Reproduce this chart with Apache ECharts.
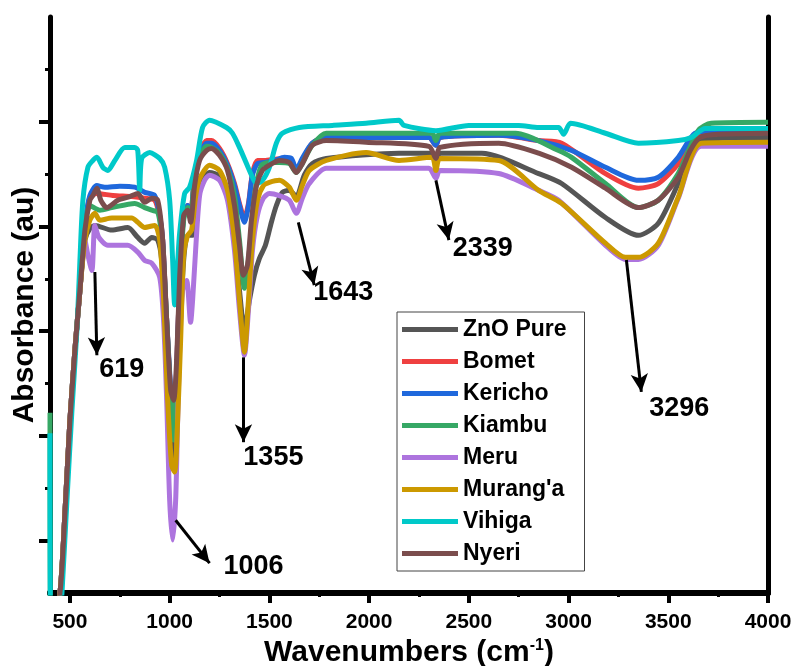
<!DOCTYPE html>
<html>
<head>
<meta charset="utf-8">
<script src="https://cdn.jsdelivr.net/npm/echarts@6/dist/echarts.min.js"></script>
<style>
  html, body { margin: 0; padding: 0; background: #fff; }
  #ftir { width: 795px; height: 666px; }
</style>
</head>
<body>
<div id="ftir"></div>
<script>
// FTIR spectra, [wavenumber, absorbance (au)]
var znoPure = [[400,-1],[450,0],[475,1.53],[500,3.30],[525,4.64],[550,5.78],[575,6.74],[600,6.96],[625,7.02],[710,6.93],[790,6.98],[840,6.79],[875,6.68],[910,6.79],[940,6.74],[960,6.35],[980,5.02],[1000,3.30],[1020,2.54],[1035,3.30],[1050,4.83],[1070,6.35],[1090,6.83],[1115,6.83],[1135,7.50],[1165,7.88],[1200,8.03],[1250,7.96],[1290,7.59],[1325,6.74],[1350,5.78],[1375,5.02],[1400,5.59],[1425,6.07],[1450,6.39],[1480,6.64],[1510,7.08],[1535,7.40],[1565,7.65],[1600,7.69],[1635,7.57],[1675,7.98],[1715,8.20],[1785,8.30],[2150,8.40],[2315,8.40],[2335,8.26],[2355,8.40],[2565,8.40],[2850,8.01],[2965,7.82],[3185,7.17],[3350,6.83],[3450,7.06],[3550,7.82],[3650,8.64],[4000,8.70]];
var bomet = [[400,-1],[450,0],[475,1.53],[500,3.30],[525,4.64],[550,5.78],[575,6.98],[600,7.56],[635,7.63],[715,7.59],[810,7.57],[875,7.54],[925,7.50],[950,7.17],[965,6.74],[985,5.21],[1020,3.11],[1035,4.25],[1050,5.97],[1070,7.21],[1090,7.40],[1105,7.21],[1125,8.01],[1150,8.40],[1185,8.64],[1210,8.64],[1250,8.49],[1290,8.20],[1325,7.82],[1350,7.44],[1375,7.16],[1395,7.44],[1415,8.01],[1440,8.26],[1475,8.26],[1525,8.28],[1575,8.30],[1610,8.26],[1635,8.07],[1665,8.26],[1715,8.59],[1785,8.70],[1985,8.70],[2300,8.70],[2335,8.55],[2355,8.70],[2650,8.74],[2850,8.64],[2965,8.59],[3185,8.01],[3350,7.73],[3450,7.82],[3550,8.20],[3635,8.74],[3750,8.83],[4000,8.83]];
var kericho = [[400,-1],[450,0],[475,1.53],[500,3.30],[525,4.64],[550,5.78],[575,7.02],[600,7.59],[635,7.78],[675,7.75],[750,7.77],[825,7.75],[875,7.65],[925,7.59],[950,7.21],[965,6.74],[985,5.21],[1020,3.30],[1035,4.25],[1050,5.97],[1070,7.21],[1090,7.40],[1105,7.21],[1125,7.98],[1150,8.36],[1185,8.59],[1210,8.59],[1250,8.45],[1290,8.17],[1325,7.78],[1350,7.40],[1375,7.08],[1395,7.40],[1415,7.98],[1440,8.20],[1475,8.22],[1525,8.26],[1575,8.32],[1610,8.30],[1635,8.09],[1665,8.30],[1715,8.59],[1785,8.70],[1985,8.70],[2300,8.70],[2335,8.55],[2355,8.70],[2650,8.74],[2850,8.64],[3015,8.45],[3185,8.13],[3350,7.88],[3450,7.94],[3550,8.32],[3635,8.78],[3750,8.83],[4000,8.83]];
var kiambu = [[400,3.44],[404,-1],[450,0],[475,1.53],[500,3.30],[525,4.64],[550,5.78],[575,6.93],[600,7.40],[650,7.31],[710,7.36],[825,7.44],[875,7.36],[910,7.31],[940,7.27],[955,6.98],[965,6.64],[985,5.21],[1020,2.92],[1035,4.06],[1050,5.78],[1070,7.12],[1090,7.36],[1105,7.17],[1125,7.94],[1150,8.32],[1185,8.53],[1210,8.51],[1250,8.40],[1290,8.11],[1325,7.59],[1350,6.74],[1375,5.82],[1400,6.54],[1425,7.59],[1460,8.17],[1500,8.22],[1550,8.22],[1600,8.20],[1635,8.03],[1665,8.20],[1715,8.55],[1785,8.78],[2315,8.78],[2335,8.64],[2355,8.78],[2735,8.78],[2950,8.45],[3015,8.32],[3185,7.82],[3350,7.36],[3450,7.50],[3550,8.01],[3650,8.83],[3715,8.97],[4000,8.99]];
var meru = [[400,-1],[450,0],[475,1.53],[500,3.30],[525,4.64],[550,5.78],[575,6.74],[590,6.45],[610,6.16],[625,7.02],[645,6.79],[690,6.64],[790,6.64],[840,6.51],[875,6.35],[910,6.30],[950,6.03],[970,5.17],[985,3.68],[1000,1.77],[1015,1.01],[1030,1.77],[1040,3.30],[1050,4.64],[1065,5.78],[1085,5.97],[1105,5.17],[1115,5.59],[1130,6.54],[1150,7.59],[1175,7.88],[1200,7.98],[1250,7.88],[1290,7.50],[1325,6.54],[1350,5.40],[1375,4.54],[1395,5.40],[1415,6.54],[1440,7.21],[1470,7.54],[1500,7.63],[1550,7.59],[1600,7.50],[1635,7.25],[1665,7.54],[1700,7.82],[1785,8.11],[2150,8.11],[2300,8.11],[2335,7.92],[2355,8.07],[2650,8.01],[2850,7.69],[2950,7.50],[3185,6.64],[3285,6.37],[3350,6.37],[3450,6.64],[3550,7.54],[3665,8.53],[4000,8.53]];
var murang = [[400,-1],[450,0],[475,1.53],[500,3.30],[525,4.64],[550,5.78],[575,6.74],[600,7.12],[625,7.25],[650,7.12],[710,7.16],[810,7.16],[840,7.08],[875,6.98],[925,7.02],[950,6.74],[970,5.59],[990,3.68],[1010,2.44],[1025,2.31],[1040,3.30],[1055,4.83],[1070,6.45],[1090,6.83],[1110,6.93],[1130,7.57],[1150,7.91],[1200,8.17],[1250,8.07],[1290,7.69],[1325,6.74],[1350,5.59],[1375,4.60],[1395,5.59],[1415,6.74],[1440,7.50],[1470,7.78],[1500,7.84],[1550,7.88],[1600,7.75],[1635,7.50],[1665,7.78],[1700,8.07],[1785,8.26],[1985,8.41],[2150,8.26],[2315,8.32],[2335,8.07],[2355,8.30],[2650,8.26],[2850,7.69],[2965,7.44],[3185,6.68],[3285,6.41],[3350,6.41],[3450,6.68],[3550,7.56],[3665,8.59],[4000,8.61]];
var vihiga = [[400,3.05],[404,-1],[455,-0.2],[460,0],[485,1.77],[510,3.49],[535,5.02],[550,6.35],[565,7.50],[590,8.13],[615,8.26],[635,8.32],[665,8.13],[690,8.07],[725,8.26],[775,8.51],[825,8.51],[840,8.45],[850,7.69],[860,8.30],[900,8.41],[950,8.30],[975,8.13],[1000,7.50],[1015,6.35],[1025,5.50],[1040,6.32],[1050,6.87],[1075,7.63],[1100,7.75],[1135,8.26],[1165,8.89],[1200,9.03],[1285,8.89],[1315,8.78],[1350,8.51],[1385,8.20],[1415,7.94],[1435,7.82],[1465,7.88],[1500,8.13],[1535,8.59],[1565,8.78],[1650,8.89],[1815,8.93],[1985,8.97],[2150,9.03],[2175,8.93],[2335,8.83],[2500,8.93],[2750,8.93],[2850,8.89],[2950,8.89],[2975,8.76],[3010,8.97],[3185,8.78],[3350,8.59],[3550,8.64],[3615,8.70],[3685,8.87],[4000,8.87]];
var nyeri = [[400,-1],[450,0],[475,1.53],[500,3.30],[525,4.64],[550,5.78],[575,6.93],[600,7.50],[615,7.59],[635,7.73],[655,7.50],[685,7.36],[740,7.50],[800,7.57],[840,7.63],[875,7.46],[910,7.54],[940,7.50],[965,6.74],[985,5.21],[1005,3.87],[1020,3.68],[1035,4.45],[1050,6.03],[1070,7.21],[1090,7.31],[1105,7.08],[1125,7.78],[1150,8.26],[1185,8.45],[1210,8.49],[1250,8.36],[1290,8.07],[1325,7.40],[1350,6.64],[1370,6.07],[1390,6.26],[1410,7.12],[1435,7.78],[1465,8.07],[1500,8.17],[1550,8.26],[1600,8.22],[1635,8.03],[1665,8.20],[1715,8.55],[1785,8.64],[1985,8.61],[2300,8.53],[2335,8.30],[2355,8.51],[2650,8.59],[2850,8.40],[3015,8.13],[3185,7.73],[3350,7.36],[3450,7.50],[3550,7.94],[3610,8.45],[3660,8.70],[3750,8.76],[4000,8.78]];

var sampleNames = ['ZnO Pure', 'Bomet', 'Kericho', 'Kiambu', 'Meru', "Murang'a", 'Vihiga', 'Nyeri'];
var sampleData = [znoPure, bomet, kericho, kiambu, meru, murang, vihiga, nyeri];
var sampleColors = ['#555555', '#ef4040', '#1f68dc', '#36a865', '#ad74de', '#cc9900', '#00c9c9', '#7b4d4d'];

var xTicks = [500, 1000, 1500, 2000, 2500, 3000, 3500, 4000];
var xMinorTicks = [750, 1250, 1750, 2250, 2750, 3250, 3750];
var yTicks = [1, 3, 5, 7, 9];
var yMinorTicks = [2, 4, 6, 8, 10];

// peak labels: [x, y, text] (text centre) and arrows [from, to]
var peakLabels = [[760, 4.26, '619'], [1420, 0.50, '1006'], [1520, 2.58, '1355'], [1870, 5.73, '1643'], [2570, 6.58, '2339'], [3555, 3.53, '3296']];
var peakArrows = [
    [[625, 6.13], [635, 4.54]],
    [[1030, 1.39], [1200, 0.57]],
    [[1370, 4.50], [1370, 2.88]],
    [[1645, 7.08], [1725, 5.88]],
    [[2335, 7.88], [2400, 6.74]],
    [[3290, 6.36], [3365, 3.84]]
];

var FONT = 'Arial, "Liberation Sans", sans-serif';

var series = sampleNames.map(function (name, i) {
    return {
        name: name,
        type: 'line',
        data: sampleData[i],
        showSymbol: false,
        smooth: 0.25,
        color: sampleColors[i],
        lineStyle: { width: 5, color: sampleColors[i] },
        silent: true
    };
});

series.push({
    name: 'peaks',
    type: 'scatter',
    data: peakLabels,
    symbolSize: 0,
    silent: true,
    z: 10,
    itemStyle: { opacity: 1 },
    label: {
        show: true,
        position: 'inside',
        formatter: function (p) { return p.data[2]; },
        color: '#000',
        opacity: 1,
        fontFamily: FONT,
        fontWeight: 'bold',
        fontSize: 27
    },
    markLine: {
        silent: true,
        symbol: ['none', 'arrow'],
        symbolSize: [13, 18],
        label: { show: false },
        lineStyle: { color: '#000', width: 3, type: 'solid', opacity: 1 },
        data: peakArrows.map(function (a) {
            return [{ coord: a[0] }, { coord: a[1] }];
        })
    }
});

var option = {
    backgroundColor: '#fff',
    animation: false,
    grid: { left: 50, right: 27, top: 17, bottom: 73, outerBoundsMode: 'none' },
    legend: {
        data: sampleNames,
        orient: 'vertical',
        left: 397,
        top: 312,
        icon: 'rect',
        itemWidth: 56,
        itemHeight: 5,
        itemGap: 9,
        padding: [6, 18, 6, 5],
        borderColor: '#444',
        borderWidth: 1,
        selectedMode: false,
        textStyle: { color: '#000', fontFamily: FONT, fontWeight: 'bold', fontSize: 23, lineHeight: 22 }
    },
    xAxis: [
        {
            type: 'value', min: 400, max: 4000, position: 'bottom',
            name: 'Wavenumbers (cm{sup|-1})',
            nameLocation: 'middle', nameGap: 42,
            nameTextStyle: {
                color: '#000', fontFamily: FONT, fontWeight: 'bold', fontSize: 30,
                rich: { sup: { color: '#000', fontFamily: FONT, fontWeight: 'bold', fontSize: 16, verticalAlign: 'top' } }
            },
            splitLine: { show: false },
            axisLine: { show: true, lineStyle: { color: '#000', width: 6 } },
            axisTick: { show: true, customValues: xTicks, length: 10, lineStyle: { color: '#000', width: 4 } },
            axisLabel: {
                customValues: xTicks, margin: 19, color: '#000', fontFamily: FONT, fontWeight: 'bold', fontSize: 21,
                formatter: function (v) { return String(v); }
            }
        },
        {
            type: 'value', min: 400, max: 4000, position: 'bottom',
            splitLine: { show: false },
            axisLine: { show: false },
            axisTick: { show: true, customValues: xMinorTicks, length: 4, lineStyle: { color: '#000', width: 3 } },
            axisLabel: { show: false }
        },
        {
            type: 'value', min: 400, max: 4000, position: 'top',
            splitLine: { show: false },
            axisLine: { show: true, lineStyle: { color: '#000', width: 6 } },
            axisTick: { show: false },
            axisLabel: { show: false }
        }
    ],
    yAxis: [
        {
            type: 'value', min: 0, max: 11, position: 'left',
            name: 'Absorbance (au)',
            nameLocation: 'middle', nameGap: 10,
            nameTextStyle: { color: '#000', fontFamily: FONT, fontWeight: 'bold', fontSize: 30 },
            splitLine: { show: false },
            axisLine: { show: true, lineStyle: { color: '#000', width: 5 } },
            axisTick: { show: true, customValues: yTicks, length: 11, lineStyle: { color: '#000', width: 4 } },
            axisLabel: { show: false }
        },
        {
            type: 'value', min: 0, max: 11, position: 'left',
            splitLine: { show: false },
            axisLine: { show: false },
            axisTick: { show: true, customValues: yMinorTicks, length: 5, lineStyle: { color: '#000', width: 3 } },
            axisLabel: { show: false }
        },
        {
            type: 'value', min: 0, max: 11, position: 'right',
            splitLine: { show: false },
            axisLine: { show: true, lineStyle: { color: '#000', width: 5 } },
            axisTick: { show: false },
            axisLabel: { show: false }
        }
    ],
    series: series
};

echarts.init(document.getElementById('ftir')).setOption(option);
</script>
</body>
</html>
